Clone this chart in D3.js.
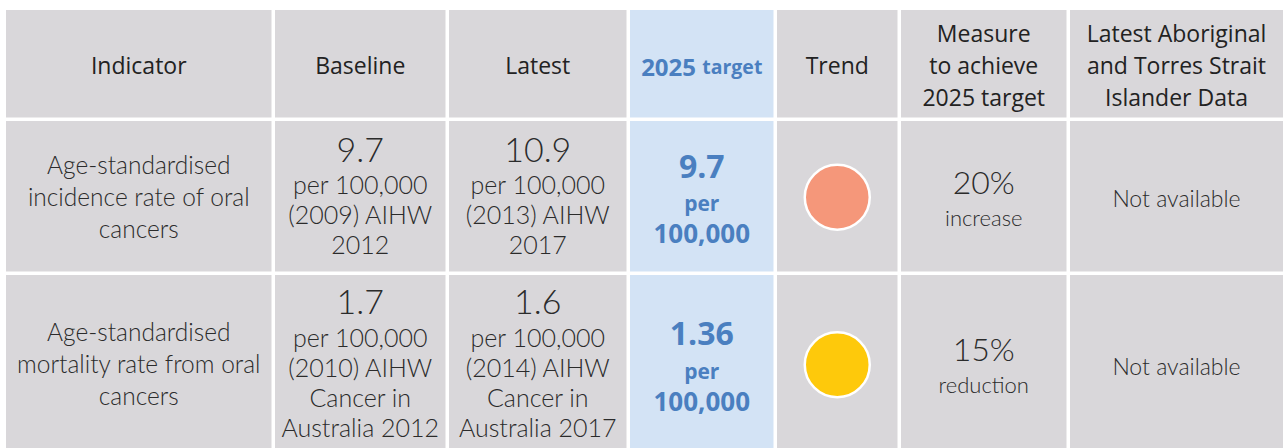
<!DOCTYPE html>
<html>
<head>
<meta charset="utf-8">
<script src="https://cdn.jsdelivr.net/npm/d3@7"></script>
<style>
  html, body { margin: 0; padding: 0; background: #fff; }
  svg { display: block; }
</style>
</head>
<body>
<div id="table"></div>
<script>
// table content
const headers = [
  ["Indicator"],
  ["Baseline"],
  ["Latest"],
  ["2025 target"],
  ["Trend"],
  ["Measure", "to achieve", "2025 target"],
  ["Latest Aboriginal", "and Torres Strait", "Islander Data"]
]
const indicators = [
  ["Age-standardised", "incidence rate of oral", "cancers"],
  ["Age-standardised", "mortality rate from oral", "cancers"]
]
const baselineValues = ["9.7", "1.7"]
const baselineNotes = [
  ["per 100,000", "(2009) AIHW", "2012"],
  ["per 100,000", "(2010) AIHW", "Cancer in", "Australia 2012"]
]
const latestValues = ["10.9", "1.6"]
const latestNotes = [
  ["per 100,000", "(2013) AIHW", "2017"],
  ["per 100,000", "(2014) AIHW", "Cancer in", "Australia 2017"]
]
const targetValues = ["9.7", "1.36"]
const targetUnits = ["per", "100,000"]
const trendColors = ["#f5977a", "#fec90b"]
const measurePercent = ["20%", "15%"]
const measureDirection = ["increase", "reduction"]
const aboriginalData = ["Not available", "Not available"]

// layout
const width = 1283
const height = 448
const colEdges = [6, 275, 449, 630, 777, 901, 1070, 1283]
const rowEdges = [10, 121, 275, 456]
const gap = 3.5
const gray = "#d9d7da"
const blue = "#d3e3f5"
const blueText = "#4a7fc0"
const textColor = "#222"
const bodyColor = "#2b2b2b"
const headFont = "'Open Sans', 'Noto Sans', sans-serif"
const bodyFont = "Lato, 'Noto Sans', sans-serif"

const svg = d3.select("#table").append("svg")
  .attr("width", width)
  .attr("height", height)

const colX = i => colEdges[i]
const colW = i => colEdges[i + 1] - colEdges[i] - (i < colEdges.length - 2 ? gap : 0)
const colC = i => colEdges[i] + colW(i) / 2
const rowY = r => rowEdges[r]
const rowH = r => rowEdges[r + 1] - rowEdges[r] - gap
const rowC = r => rowEdges[r] + rowH(r) / 2

// cells
const cells = []
for (let r = 0; r < 3; r++) {
  for (let c = 0; c < 7; c++) cells.push({r, c})
}
svg.append("g").selectAll("rect")
  .data(cells)
  .join("rect")
  .attr("x", d => colX(d.c))
  .attr("y", d => rowY(d.r))
  .attr("width", d => colW(d.c))
  .attr("height", d => rowH(d.r))
  .attr("fill", d => d.c === 3 ? blue : gray)

// draw a stack of lines centred in a cell
function stack(c, r, lines, opts) {
  const steps = lines.map((l, i) => i === 0 ? 0 : (opts.steps ? opts.steps[Math.min(i, opts.steps.length - 1)] : opts.lh))
  const offs = d3.cumsum(steps)
  const mid = (offs[0] + offs[offs.length - 1]) / 2
  const g = svg.append("g")
  g.selectAll("text")
    .data(lines)
    .join("text")
    .attr("x", colC(c))
    .attr("y", (d, i) => rowC(r) + (opts.dy || 0) - mid + offs[i])
    .attr("text-anchor", "middle")
    .attr("dominant-baseline", "central")
    .attr("font-family", opts.font)
    .attr("font-weight", (d, i) => opts.weights ? opts.weights[Math.min(i, opts.weights.length - 1)] : opts.weight)
    .attr("font-size", (d, i) => opts.sizes ? opts.sizes[Math.min(i, opts.sizes.length - 1)] : opts.size)
    .attr("fill", opts.color || textColor)
    .text(d => d)
  return g
}

// header row
headers.forEach((h, c) => {
  if (c === 3) {
    const t = svg.append("text")
      .attr("x", colC(c))
      .attr("y", rowC(0) + 2)
      .attr("text-anchor", "middle")
      .attr("dominant-baseline", "central")
      .attr("font-family", headFont)
      .attr("font-weight", 700)
      .attr("fill", blueText)
    const [num, word] = h[0].split(" ")
    t.append("tspan").attr("font-size", 24).text(num + " ")
    t.append("tspan").attr("font-size", 19.5).text(word)
  } else {
    stack(c, 0, h, {font: headFont, weight: 400, size: 23, lh: 32, dy: 1.5})
  }
})

// body rows
indicators.forEach((lines, i) => {
  const r = i + 1
  stack(0, r, lines, {font: bodyFont, weight: 300, size: 24.5, lh: 32, color: bodyColor})
  stack(1, r, [baselineValues[i], ...baselineNotes[i]], {font: bodyFont, weight: 300, sizes: [34, 25], steps: [0, 36, 30], color: bodyColor})
  stack(2, r, [latestValues[i], ...latestNotes[i]], {font: bodyFont, weight: 300, sizes: [34, 25], steps: [0, 36, 30], color: bodyColor})
  stack(3, r, [targetValues[i], ...targetUnits], {font: headFont, weight: 700, sizes: [32, 21, 26], steps: [0, 38, 30], color: blueText, dy: 3})
  stack(5, r, [measurePercent[i], measureDirection[i]], {font: bodyFont, weight: 300, sizes: [32, 22], lh: 36, dy: 3, color: bodyColor})
  stack(6, r, [aboriginalData[i]], {font: bodyFont, weight: 300, size: 23, lh: 30, dy: 2, color: bodyColor})
})

// trend circles
svg.append("g").selectAll("circle")
  .data(trendColors)
  .join("circle")
  .attr("cx", colC(4))
  .attr("cy", (d, i) => rowC(i + 1) + 1)
  .attr("r", 32.5)
  .attr("fill", d => d)
  .attr("stroke", "#fff")
  .attr("stroke-width", 2.5)
</script>
</body>
</html>
